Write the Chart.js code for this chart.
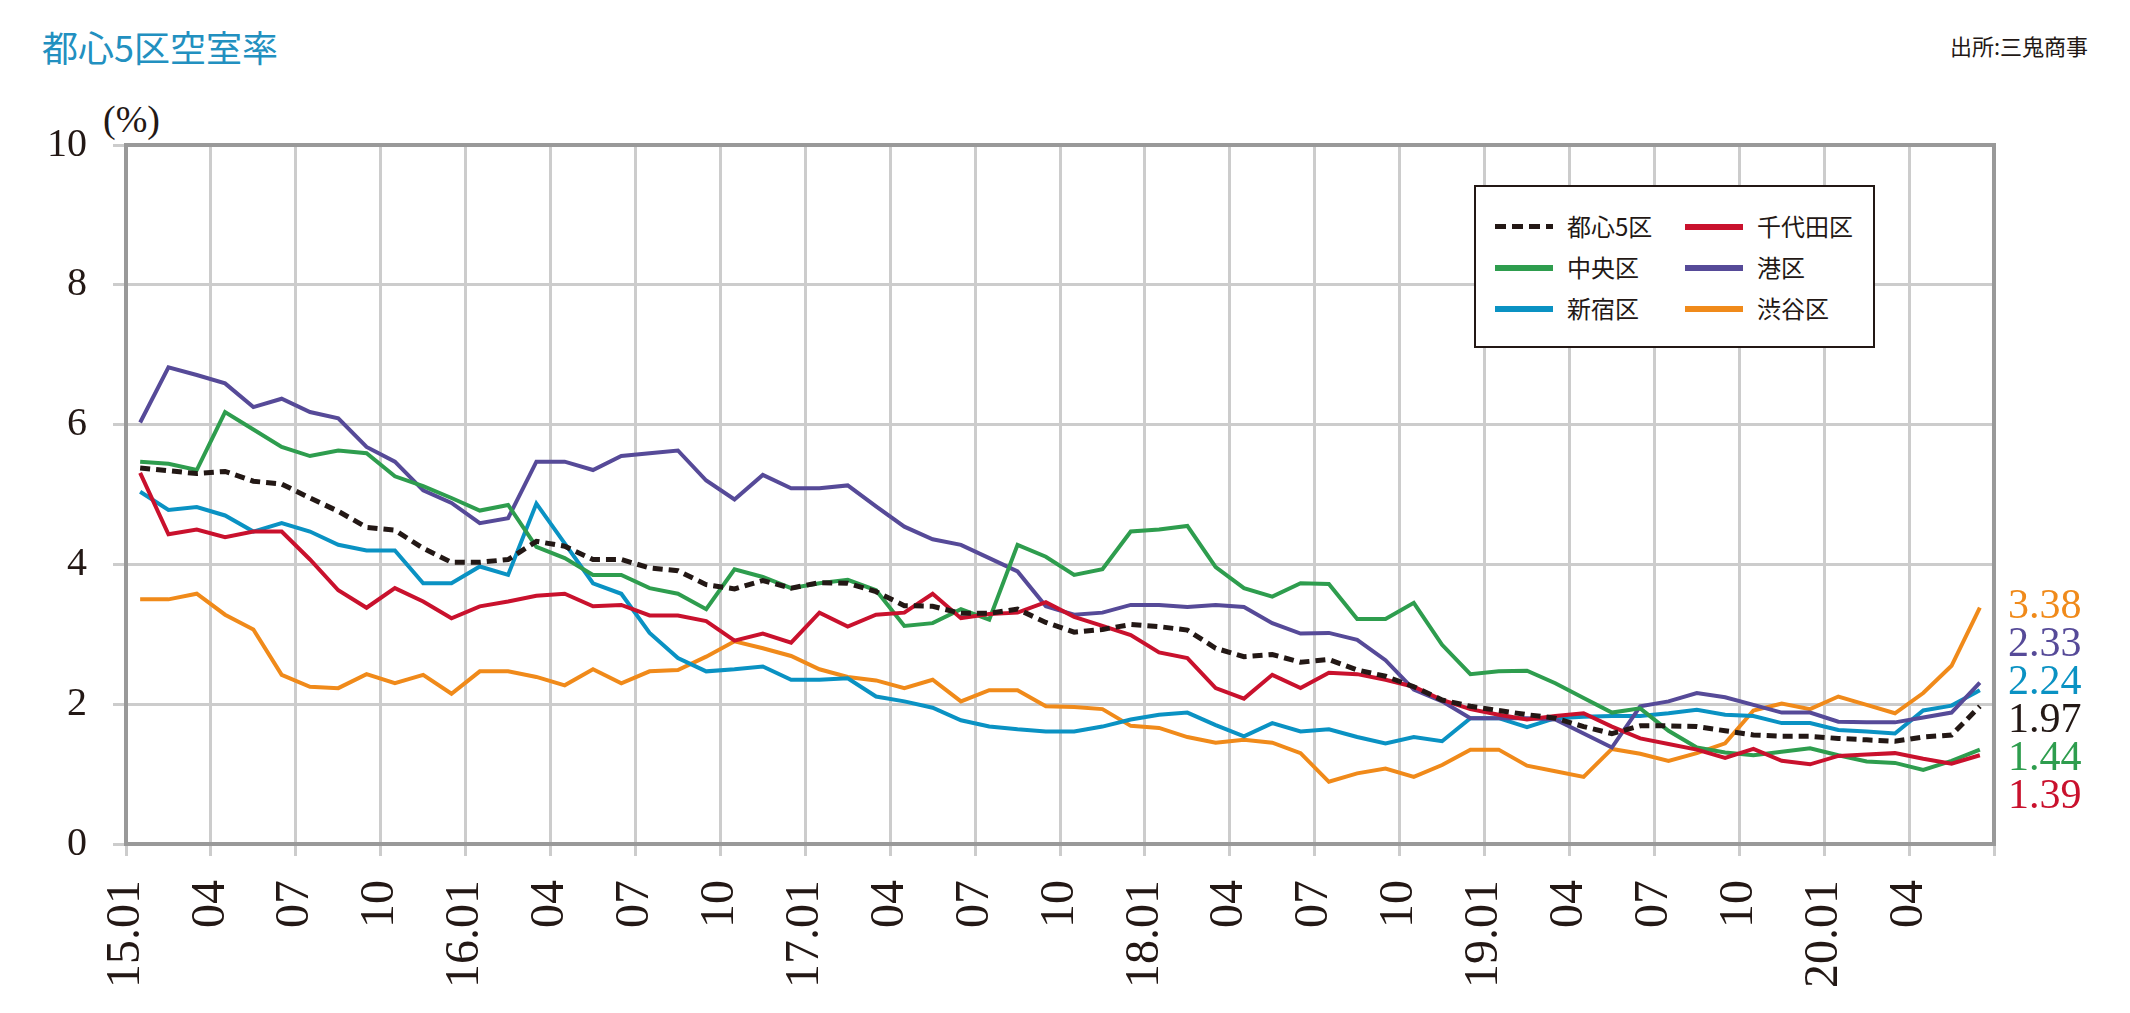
<!DOCTYPE html>
<html lang="ja">
<head>
  <meta charset="UTF-8" />
  <title>都心5区空室率</title>
  <script src="https://cdn.jsdelivr.net/npm/chart.js"></script>
  <style>
    html, body { margin: 0; padding: 0; background: #fff; }
    body {
      width: 2130px; height: 1013px; position: relative; overflow: hidden;
      font-family: 'Noto Sans CJK JP', sans-serif; color: #231815;
    }
    #chart { position: absolute; left: 0; top: 0; z-index: 1; }
    .title { position: absolute; left: 42px; top: 24px; font-size: 36px; line-height: 44px; color: #2290c0; }
    .source { position: absolute; right: 42px; top: 30px; font-size: 22px; line-height: 30px; }
    .unit { position: absolute; left: 103px; top: 98px; font-family: 'Liberation Serif', serif; font-size: 38px; line-height: 42px; }
    .legend {
      position: absolute; left: 1474px; top: 185px; width: 397px; height: 159px;
      border: 2px solid #231815; background: #fff; z-index: 2;
    }
    .legend .swatch { position: absolute; width: 58px; height: 6px; }
    .legend .name { position: absolute; font-size: 24px; line-height: 30px; white-space: nowrap; }
  </style>
</head>
<body>

  <canvas id="chart" width="2130" height="1013"></canvas>
  <div class="title">都心5区空室率</div>
  <div class="source">出所:三鬼商事</div>
  <div class="unit">(%)</div>
  <div class="legend" id="legend"></div>

  <script>
    // 2015.01 - 2020.06, monthly (%)
    const tickLabels = ["15.01","04","07","10","16.01","04","07","10","17.01","04","07","10",
                        "18.01","04","07","10","19.01","04","07","10","20.01","04"];

    const areas = ["都心5区", "千代田区", "中央区", "港区", "新宿区", "渋谷区"];
    const colors = ["#231815", "#c9112d", "#2e9d4e", "#564a98", "#0a92c3", "#f08a1a"];
    const endLabels = ["1.97", "1.39", "1.44", "2.33", "2.24", "3.38"];

    const toshin5 = [5.38,5.34,5.30,5.33,5.19,5.15,4.95,4.76,4.53,4.49,4.23,
                     4.03,4.03,4.07,4.33,4.26,4.07,4.07,3.95,3.91,3.71,3.65,
                     3.77,3.66,3.74,3.73,3.61,3.41,3.40,3.30,3.30,3.36,3.17,
                     3.03,3.07,3.14,3.11,3.06,2.80,2.68,2.71,2.60,2.64,2.49,
                     2.40,2.25,2.06,1.97,1.91,1.85,1.80,1.68,1.58,1.69,1.69,
                     1.68,1.62,1.56,1.54,1.54,1.51,1.49,1.47,1.53,1.56,1.97];
    const chiyoda = [5.31,4.43,4.50,4.39,4.47,4.47,4.07,3.63,3.38,3.66,3.47,
                     3.23,3.40,3.47,3.55,3.58,3.40,3.42,3.27,3.27,3.19,2.91,
                     3.01,2.88,3.31,3.11,3.28,3.31,3.58,3.23,3.29,3.31,3.46,
                     3.25,3.12,2.99,2.74,2.66,2.23,2.08,2.42,2.23,2.45,2.43,
                     2.35,2.25,2.06,1.93,1.85,1.78,1.83,1.87,1.68,1.51,1.43,
                     1.35,1.23,1.36,1.19,1.14,1.26,1.28,1.30,1.22,1.15,1.27];
    const chuo    = [5.47,5.44,5.35,6.18,5.93,5.68,5.55,5.63,5.59,5.26,5.12,
                     4.95,4.77,4.85,4.25,4.09,3.85,3.85,3.66,3.58,3.36,3.93,
                     3.82,3.66,3.73,3.78,3.63,3.12,3.16,3.36,3.21,4.28,4.11,
                     3.85,3.93,4.47,4.50,4.55,3.96,3.66,3.54,3.73,3.72,3.22,
                     3.22,3.45,2.85,2.43,2.47,2.48,2.30,2.09,1.88,1.94,1.62,
                     1.38,1.31,1.27,1.32,1.37,1.27,1.18,1.16,1.06,1.19,1.35];
    const minato  = [6.03,6.82,6.71,6.59,6.25,6.37,6.18,6.09,5.68,5.47,5.06,
                     4.88,4.59,4.66,5.47,5.47,5.35,5.55,5.59,5.63,5.20,4.93,
                     5.28,5.09,5.09,5.13,4.83,4.54,4.36,4.28,4.09,3.90,3.40,
                     3.28,3.31,3.42,3.42,3.39,3.42,3.39,3.16,3.01,3.02,2.92,
                     2.63,2.21,2.04,1.80,1.80,1.80,1.78,1.58,1.38,1.97,2.04,
                     2.16,2.10,1.99,1.88,1.88,1.75,1.74,1.74,1.81,1.88,2.31];
    const shinjuku = [5.04,4.78,4.82,4.70,4.47,4.59,4.47,4.28,4.20,4.20,3.73,
                      3.73,3.97,3.85,4.87,4.30,3.73,3.58,3.02,2.66,2.47,2.50,
                      2.54,2.35,2.35,2.37,2.11,2.04,1.95,1.77,1.68,1.64,1.61,
                      1.61,1.68,1.78,1.85,1.88,1.70,1.54,1.73,1.61,1.64,1.53,
                      1.44,1.53,1.47,1.80,1.80,1.67,1.80,1.82,1.83,1.83,1.87,
                      1.92,1.85,1.83,1.73,1.73,1.63,1.61,1.58,1.91,1.98,2.20];
    const shibuya = [3.50,3.50,3.58,3.28,3.07,2.42,2.25,2.23,2.43,2.30,2.42,
                     2.15,2.47,2.47,2.39,2.27,2.50,2.30,2.47,2.49,2.68,2.90,
                     2.80,2.69,2.50,2.39,2.34,2.23,2.35,2.04,2.20,2.20,1.97,
                     1.96,1.93,1.69,1.66,1.53,1.45,1.49,1.45,1.30,0.89,1.01,
                     1.08,0.96,1.13,1.35,1.35,1.12,1.04,0.96,1.36,1.29,1.19,
                     1.30,1.44,1.91,2.01,1.93,2.11,1.99,1.87,2.16,2.55,3.38];

    const series = [toshin5, chiyoda, chuo, minato, shinjuku, shibuya];

    // legend (HTML, two columns, swatch and name placed separately)
    const legend = document.getElementById("legend");
    areas.forEach((name, k) => {
      const col = k % 2, row = Math.floor(k / 2);
      const cy = 40 + row * 41;              // row centre inside the box
      const x0 = col ? 209 : 19;
      const sw = document.createElement("div");
      sw.className = "swatch";
      sw.style.left = x0 + "px";
      sw.style.top = (cy - 3) + "px";
      if (k === 0) {
        sw.style.height = "5px";
        sw.style.background = "repeating-linear-gradient(to right, #231815 0 11px, transparent 11px 17px)";
      } else {
        sw.style.background = colors[k];
      }
      const tx = document.createElement("div");
      tx.className = "name";
      tx.style.left = (x0 + 72) + "px";
      tx.style.top = (cy - 16) + "px";
      tx.textContent = name;
      legend.appendChild(sw);
      legend.appendChild(tx);
    });

    const framePlugin = {
      id: "frame",
      beforeDatasetsDraw(chart) {
        const { ctx, chartArea: a } = chart;
        ctx.save();
        ctx.strokeStyle = "#999999";
        ctx.lineWidth = 4;
        ctx.strokeRect(a.left, a.top, a.right - a.left, a.bottom - a.top);
        ctx.restore();
      },
      afterDatasetsDraw(chart) {
        // closing values, stacked beside the right edge
        const { ctx, scales: { y } } = chart;
        const items = series.map((s, k) => ({ k, px: y.getPixelForValue(s[s.length - 1]), v: s[s.length - 1] }))
          .sort((p, q) => q.v - p.v);
        const gap = 38;
        const mean = items.reduce((t, p) => t + p.px, 0) / items.length;
        const start = mean - gap * (items.length - 1) / 2;
        ctx.save();
        ctx.font = "42px 'Liberation Serif'";
        ctx.textAlign = "left";
        ctx.textBaseline = "alphabetic";
        items.forEach((p, n) => {
          ctx.fillStyle = colors[p.k];
          ctx.fillText(endLabels[p.k], 2008, start + n * gap + 14);
        });
        ctx.restore();
      }
    };

    Chart.defaults.font.family = "'Liberation Serif', serif";
    Chart.defaults.color = "#231815";

    new Chart(document.getElementById("chart"), {
      type: "line",
      data: {
        datasets: series.map((s, k) => ({
          label: areas[k],
          data: s.map((v, i) => ({ x: i + 0.5, y: v })),
          borderColor: colors[k],
          backgroundColor: colors[k],
          borderWidth: k === 0 ? 5 : 4,
          borderDash: k === 0 ? [10, 6] : [],
          pointRadius: 0,
          tension: 0,
          fill: false
        }))
      },
      options: {
        responsive: false,
        devicePixelRatio: 1,
        animation: false,
        layout: { padding: { top: 145, right: 136, left: 0, bottom: 0 } },
        plugins: { legend: { display: false }, tooltip: { enabled: false } },
        scales: {
          x: {
            type: "linear",
            min: 0, max: 66,
            afterFit: s => { s.height = 169; },
            grid: { color: "#cccccc", lineWidth: 3, tickLength: 12 },
            border: { display: false },
            ticks: {
              stepSize: 3, maxTicksLimit: 30, autoSkip: false,
              minRotation: 90, maxRotation: 90, padding: 24,
              font: { size: 48 },
              callback: v => tickLabels[v / 3] ?? ""
            }
          },
          y: {
            min: 0, max: 10,
            afterFit: s => { s.width = 126; },
            grid: { color: "#cccccc", lineWidth: 3, tickLength: 13 },
            border: { display: false },
            ticks: { stepSize: 2, padding: 26, font: { size: 40 } }
          }
        }
      },
      plugins: [framePlugin]
    });
  </script>
</body>
</html>
